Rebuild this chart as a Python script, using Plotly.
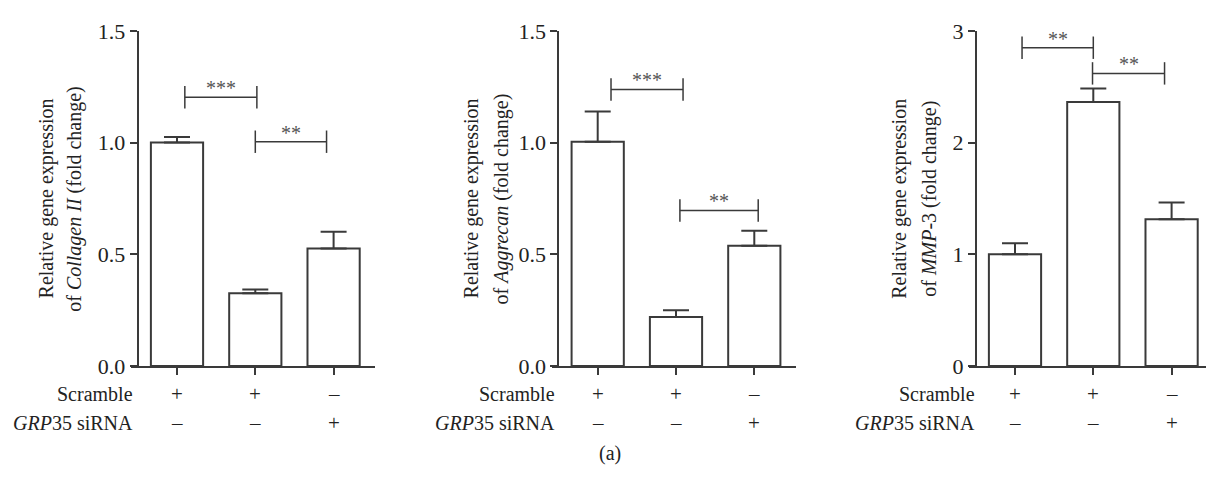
import plotly.graph_objects as go

W, H = 1206, 481

# ---------------- data ----------------
groups = [0, 1, 2]
scramble_row = ["+", "+", "\u2013"]
sirna_row = ["\u2013", "\u2013", "+"]

collagen_mean = [1.0, 0.325, 0.526]
collagen_err = [0.025, 0.017, 0.075]
aggrecan_mean = [1.004, 0.219, 0.538]
aggrecan_err = [0.135, 0.030, 0.067]
mmp3_mean = [1.0, 2.363, 1.313]
mmp3_err = [0.099, 0.122, 0.150]

# significance brackets: (x start, x end, height, label)
collagen_sig = [(0.10, 1.02, 1.203, "***"), (1.0, 1.91, 1.004, "**")]
aggrecan_sig = [(0.17, 1.09, 1.238, "***"), (1.05, 2.05, 0.696, "**")]
mmp3_sig = [(0.09, 1.0, 2.85, "**"), (0.99, 1.91, 2.62, "**")]

y_ticks_a = [0.0, 0.5, 1.0, 1.5]
y_ticks_b = [0, 1, 2, 3]

titles = [
    ("Relative gene expression", "of <i>Collagen II</i> (fold change)"),
    ("Relative gene expression", "of <i>Aggrecan</i> (fold change)"),
    ("Relative gene expression", "of <i>MMP</i>-3 (fold change)"),
]

# ---------------- style / layout helpers ----------------
FONT = "Liberation Serif"
INK = "#222222"
LINE = "#3a3a3a"

def px(x):
    return x / W

def py(y):
    return (H - y) / H

y_top, y_bot = 20, 373.3
panels = [
    dict(x0=131, x1=375, yaxis_x=137.7, mean=collagen_mean, err=collagen_err,
         sig=collagen_sig, ticks=y_ticks_a, fmt=".1f", ymax=1.5,
         t1=46.7, t2=75.0, lab_right=135),
    dict(x0=551.7, x1=796, yaxis_x=558.3, mean=aggrecan_mean, err=aggrecan_err,
         sig=aggrecan_sig, ticks=y_ticks_a, fmt=".1f", ymax=1.5,
         t1=471.7, t2=501.7, lab_right=556.5),
    dict(x0=969, x1=1206, yaxis_x=976, mean=mmp3_mean, err=mmp3_err,
         sig=mmp3_sig, ticks=y_ticks_b, fmt="d", ymax=3,
         t1=900, t2=930, lab_right=977),
]

fig = go.Figure()
layout = dict(
    width=W, height=H,
    margin=dict(l=0, r=0, t=0, b=0),
    paper_bgcolor="white", plot_bgcolor="white",
    showlegend=False,
    font=dict(family=FONT, color=INK, size=18),
)
annotations = []

spacing = 78.3
for i, p in enumerate(panels):
    n = "" if i == 0 else str(i + 1)
    xa, ya = "x" + n, "y" + n
    c0 = p["x0"] + 46.0
    xr = [(p["x0"] - c0) / spacing, (p["x1"] - c0) / spacing]

    fig.add_trace(go.Bar(
        x=groups, y=p["mean"], width=0.667,
        marker=dict(color="white", line=dict(color=LINE, width=2)),
        error_y=dict(type="data", symmetric=False, array=p["err"],
                     arrayminus=[0] * len(groups), color=LINE,
                     thickness=2, width=13),
        xaxis=xa, yaxis=ya, hoverinfo="skip",
    ))

    for (xs, xe, h, lab) in p["sig"]:
        fig.add_trace(go.Scatter(
            x=[xs, xe], y=[h, h], mode="lines+markers",
            line=dict(color=LINE, width=1.5),
            marker=dict(symbol="line-ns", size=16,
                        line=dict(color=LINE, width=1.5)),
            xaxis=xa, yaxis=ya, hoverinfo="skip",
        ))
        annotations.append(dict(
            x=(xs + xe) / 2, y=h, xref=xa, yref=ya, text=lab,
            showarrow=False, yanchor="bottom", yshift=-4,
            font=dict(size=20, color="#555555", family=FONT),
        ))

    layout["xaxis" + n] = dict(
        domain=[px(p["x0"]), px(p["x1"])], range=xr, anchor=ya,
        showgrid=False, zeroline=False, showline=True, linecolor=LINE,
        linewidth=2, ticks="outside", ticklen=7, tickwidth=2,
        tickcolor=LINE, tickvals=groups, showticklabels=False,
        fixedrange=True,
    )
    layout["yaxis" + n] = dict(
        domain=[py(y_bot), py(y_top)], range=[0, p["ymax"]],
        anchor="free", position=px(p["yaxis_x"]),
        showgrid=False, zeroline=False, showline=True, linecolor=LINE,
        linewidth=2, ticks="outside", ticklen=7, tickwidth=2,
        tickcolor=LINE, tickvals=p["ticks"], tickformat=p["fmt"],
        tickfont=dict(size=22, family=FONT, color=INK),
        fixedrange=True,
    )

    for xc, txt in ((p["t1"], titles[i][0]), (p["t2"], titles[i][1])):
        annotations.append(dict(
            x=px(xc), y=py(197), xref="paper", yref="paper", text=txt,
            textangle=-90, showarrow=False, xanchor="center",
            yanchor="middle", font=dict(size=20, family=FONT, color=INK),
        ))

    for yc, txt in ((402.7, "Scramble"), (433.3, "<i>GRP</i>35 siRNA")):
        annotations.append(dict(
            x=px(p["lab_right"]), y=py(yc), xref="paper", yref="paper",
            text=txt, showarrow=False, xanchor="right", yanchor="middle",
            font=dict(size=20, family=FONT, color=INK),
        ))
    for g, s1, s2 in zip(groups, scramble_row, sirna_row):
        for yc, s in ((402.7, s1), (433.3, s2)):
            annotations.append(dict(
                x=g, y=py(yc), xref=xa, yref="paper", text=s,
                showarrow=False, xanchor="center", yanchor="middle",
                font=dict(size=21, family=FONT, color=INK),
            ))

annotations.append(dict(
    x=px(610), y=py(466), xref="paper", yref="paper", text="(a)",
    showarrow=False, xanchor="center", yanchor="middle",
    font=dict(size=20, family=FONT, color=INK),
))

layout["annotations"] = annotations
fig.update_layout(**layout)
fig.write_html("out.html")
